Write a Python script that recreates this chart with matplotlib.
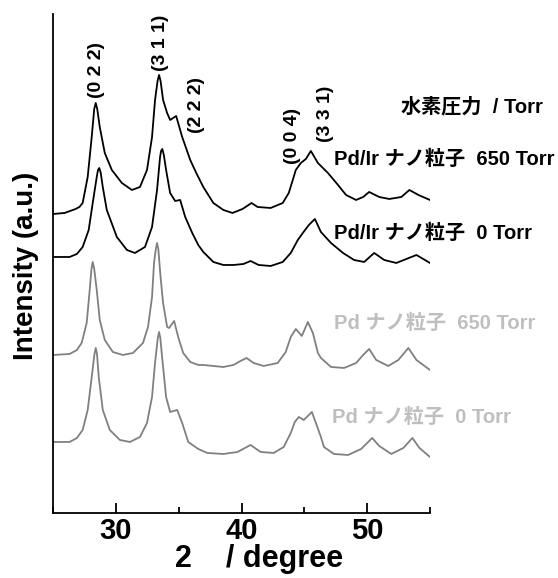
#!/usr/bin/env python

import matplotlib
matplotlib.use('Agg')
from matplotlib import pyplot as plt
from matplotlib.ticker import MultipleLocator

plt.rcParams['font.family'] = ['Liberation Sans', 'Noto Sans CJK JP', 'DejaVu Sans']
plt.rcParams['font.weight'] = 'bold'

# 2theta / intensity (arbitrary, offset traces)
pdir_650_x = [25.0, 25.92, 26.8, 27.1, 27.36, 27.76, 28.08, 28.28, 28.4, 28.52, 28.72, 29.12,
              29.68, 30.48, 31.28, 31.92, 32.48, 32.88, 33.12, 33.32, 33.44, 33.56, 33.76, 34.08,
              34.32, 34.8, 35.28, 35.92, 36.4, 36.96, 37.76, 38.56, 39.28, 40.08, 40.8, 41.28,
              42.32, 43.28, 43.76, 44.08, 44.32, 44.72, 45.12, 45.52, 46.08, 46.88, 47.68, 48.32,
              49.12, 49.68, 50.16, 50.96, 51.76, 52.72, 53.36, 54.08, 55.0]
pdir_650_y = [299, 300, 304, 306, 310, 336, 376, 404, 410, 404, 386, 360,
              343, 330, 323, 326, 343, 376, 413, 432, 438, 432, 413, 400,
              393, 397, 376, 353, 340, 326, 310, 303, 300, 304, 310, 306,
              305, 310, 320, 333, 343, 350, 354, 362, 350, 340, 328, 318,
              313, 316, 321, 316, 314, 316, 323, 318, 313]

pdir_0_x = [25.0, 26.32, 26.9, 27.36, 27.84, 28.16, 28.48, 28.58, 28.68, 28.8, 28.96, 29.28,
            30.08, 30.88, 31.52, 32.32, 32.88, 33.28, 33.52, 33.6, 33.7, 33.82, 34.0, 34.32,
            34.72, 35.12, 35.52, 36.08, 36.56, 36.96, 37.76, 38.56, 39.36, 40.16, 40.72, 41.36,
            42.32, 43.28, 43.92, 44.48, 44.88, 45.36, 45.84, 46.32, 47.12, 48.08, 48.96, 49.76,
            50.56, 51.36, 52.32, 53.92, 55.0]
pdir_0_y = [256, 256, 259, 266, 283, 310, 336, 343, 345, 340, 326, 303,
            276, 263, 260, 266, 286, 323, 356, 362, 364, 358, 343, 320,
            312, 313, 296, 280, 268, 261, 251, 248, 248, 249, 252, 248,
            247, 251, 260, 273, 280, 288, 294, 281, 270, 260, 253, 251,
            260, 253, 250, 258, 250]

pd_650_x = [25.0, 26.32, 26.9, 27.28, 27.68, 27.92, 28.06, 28.16, 28.28, 28.48, 28.72, 29.12,
            29.76, 30.56, 31.36, 32.16, 32.56, 32.88, 33.04, 33.18, 33.28, 33.38, 33.56, 33.76,
            34.08, 34.24, 34.64, 34.96, 35.36, 35.92, 36.56, 36.96, 38.56, 39.36, 39.92, 40.4,
            40.96, 41.76, 42.88, 43.52, 43.92, 44.32, 44.8, 45.28, 45.68, 46.08, 46.32, 47.12,
            48.16, 49.12, 49.68, 50.16, 50.72, 51.68, 52.48, 53.28, 53.92, 55.0]
pd_650_y = [158, 159, 163, 170, 190, 223, 244, 251, 244, 223, 193, 173,
            161, 158, 160, 170, 186, 216, 250, 264, 270, 264, 236, 210,
            186, 185, 192, 176, 160, 151, 148, 148, 146, 148, 152, 155,
            150, 147, 150, 161, 176, 184, 177, 191, 180, 160, 155, 146,
            145, 150, 158, 164, 153, 147, 153, 165, 153, 143]

pd_0_x = [25.0, 26.32, 26.9, 27.36, 27.76, 28.08, 28.3, 28.4, 28.5, 28.64, 28.96, 29.52,
          30.32, 31.12, 31.92, 32.48, 32.88, 33.12, 33.34, 33.44, 33.54, 33.68, 34.0, 34.32,
          34.88, 35.28, 35.76, 36.56, 37.28, 38.56, 39.68, 40.72, 41.52, 42.56, 43.36, 43.92,
          44.24, 44.56, 44.96, 45.6, 45.92, 46.32, 46.56, 47.36, 48.48, 49.52, 50.08, 50.4,
          50.96, 51.92, 52.88, 53.6, 54.16, 55.0]
pd_0_y = [71, 71, 75, 83, 103, 136, 159, 165, 159, 136, 103, 83,
          73, 71, 76, 90, 116, 150, 175, 181, 175, 156, 116, 101,
          103, 90, 71, 64, 60, 59, 61, 68, 61, 60, 66, 80,
          91, 96, 93, 101, 90, 76, 66, 59, 58, 64, 71, 75,
          67, 59, 65, 75, 65, 56]

peak_labels = ['(0 2 2)', '(3 1 1)', '(2 2 2)', '(0 0 4)', '(3 3 1)']
trace_labels = ['Pd/Ir ナノ粒子  650 Torr', 'Pd/Ir ナノ粒子  0 Torr',
                'Pd ナノ粒子  650 Torr', 'Pd ナノ粒子  0 Torr']
legend_title = '水素圧力  / Torr'

black = '#000000'
gray = '#808080'
light_gray = '#bfbfbf'


def main():
    fig = plt.figure(figsize=(5.58, 5.78), dpi=100)
    ax = fig.add_axes([0.095, 0.1125, 0.6756, 0.8633])

    ax.plot(pdir_650_x, pdir_650_y, color=black, lw=1.3)
    ax.plot(pdir_0_x, pdir_0_y, color=black, lw=1.3)
    ax.plot(pd_650_x, pd_650_y, color=gray, lw=1.3)
    ax.plot(pd_0_x, pd_0_y, color=gray, lw=1.3)

    ax.set_xlim(25, 55)
    ax.set_ylim(0, 499)

    ax.spines['top'].set_visible(False)
    ax.spines['right'].set_visible(False)
    ax.spines['left'].set_linewidth(1.3)
    ax.spines['bottom'].set_linewidth(1.3)

    ax.xaxis.set_major_locator(MultipleLocator(10))
    ax.xaxis.set_minor_locator(MultipleLocator(5))
    ax.tick_params(axis='x', which='major', direction='in', length=7, width=1.3,
                   labelsize=21, pad=3)
    ax.tick_params(axis='x', which='minor', direction='in', length=4, width=1.3)
    ax.set_yticks([])
    for lbl in ax.get_xticklabels():
        lbl.set_fontweight('bold')

    ax.set_xlabel('2    / degree', fontsize=22, fontweight='bold')
    ax.xaxis.set_label_coords(0.546, -0.062)
    ax.set_ylabel('Intensity (a.u.)', fontsize=20, fontweight='bold')
    ax.yaxis.set_label_coords(-0.037, 0.495)

    # Miller indices above the peaks
    peak_pos = [(28.48, 443), (33.52, 470), (36.4, 408), (44.08, 377), (46.72, 399)]
    for text, (x, y) in zip(peak_labels, peak_pos):
        ax.text(x, y, text, rotation=90, ha='center', va='center',
                fontsize=14, fontweight='bold')

    # Trace labels
    ax.text(52.72, 406, legend_title, ha='left', va='center', fontsize=14.5,
            fontweight='bold', color=black, clip_on=False)
    label_pos = [(47.36, 354), (47.36, 280), (47.36, 190), (47.2, 96)]
    label_colors = [black, black, light_gray, light_gray]
    for text, (x, y), c in zip(trace_labels, label_pos, label_colors):
        ax.text(x, y, text, ha='left', va='center', fontsize=14.5,
                fontweight='bold', color=c, clip_on=False)

    fig.savefig('out.png', dpi=100)
    plt.close()
    return 0


if __name__ == '__main__':
    main()
